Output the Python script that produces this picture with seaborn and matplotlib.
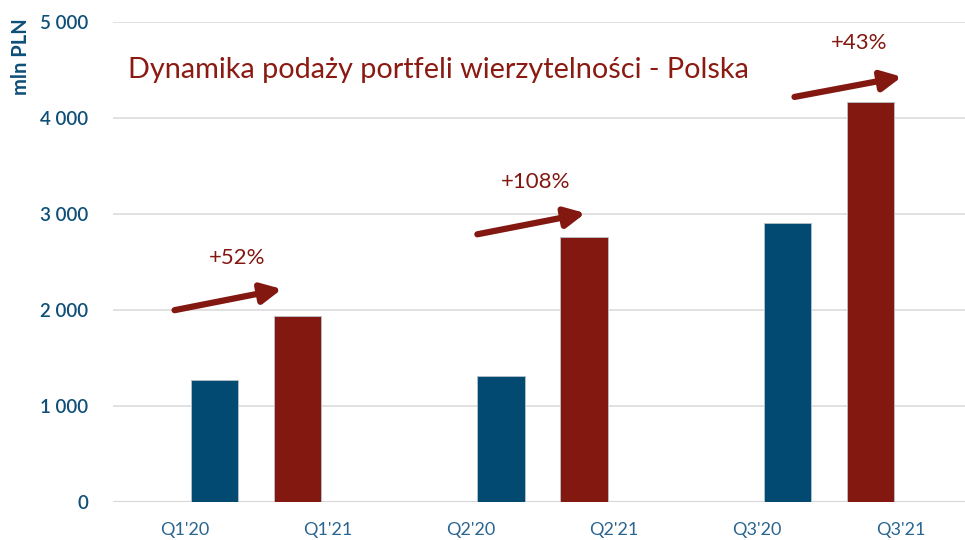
import matplotlib
matplotlib.use("Agg")
import matplotlib.pyplot as plt
import seaborn as sns
import pandas as pd
from matplotlib.ticker import FuncFormatter, MultipleLocator

# ---- data ----
quarters = ["Q1'20", "Q1'21", "Q2'20", "Q2'21", "Q3'20", "Q3'21"]
years = ["2020", "2021", "2020", "2021", "2020", "2021"]
values = [1270, 1935, 1320, 2765, 2905, 4170]
growth_labels = ["+52%", "+108%", "+43%"]
title_text = "Dynamika podaży portfeli wierzytelności - Polska"
y_label = "mln PLN"

# annotation geometry (data coords): arrow start/end and label position
arrow_start = [(-0.07, 2000), (2.045, 2790), (4.26, 4220)]
arrow_end = [(0.68, 2220), (2.80, 3010), (5.01, 4430)]
label_pos = [(0.37, 2545), (2.45, 3330), (4.71, 4780)]

BLUE = "#034A73"
RED = "#831811"
TITLE_RED = "#8A1A12"
TICK_BLUE = "#0E4F78"
XTICK_BLUE = "#2A6590"

sns.set_theme(style="white")
plt.rcParams["font.family"] = ["Lato", "DejaVu Sans"]

df = pd.DataFrame({"quarter": quarters, "year": years, "value": values})

fig = plt.figure(figsize=(9.65, 5.40), dpi=100)
ax = fig.add_axes([113 / 965, (540 - 502.3) / 540, (972 - 113) / 965, (502.3 - 22) / 540])

sns.barplot(data=df, x="quarter", y="value", hue="year", hue_order=["2021", "2020"],
            palette={"2020": BLUE, "2021": RED}, order=quarters,
            width=0.84, gap=0.21, dodge=True, legend=False, ax=ax,
            edgecolor="#B8C4CC", linewidth=0.6, saturation=1)

ax.set_xlim(-0.5, 5.5)
ax.set_ylim(0, 5000)
ax.yaxis.set_major_locator(MultipleLocator(1000))
ax.yaxis.set_major_formatter(FuncFormatter(lambda v, p: f"{int(v):,}".replace(",", " ")))
ax.grid(axis="y", color="#D9D9D9", linewidth=1.1)
ax.set_axisbelow(True)
for s in ax.spines.values():
    s.set_visible(False)
ax.axhline(0, color="#D0D0D0", linewidth=2.2, zorder=0.5)

ax.tick_params(axis="y", length=0, pad=18, labelsize=13.5, labelcolor=TICK_BLUE)
ax.tick_params(axis="x", length=0, pad=14, labelsize=13, labelcolor=XTICK_BLUE)
for t in ax.get_yticklabels():
    t.set_fontweight("semibold")
ax.set_xlabel("")
ax.set_ylabel("")

fig.text(21 / 965, 1 - 57 / 540, y_label, rotation=90, ha="center", va="center",
         fontsize=14.5, fontweight="bold", color=TICK_BLUE)

fig.text(128 / 965, 1 - 70 / 540, title_text, ha="left", va="center",
         fontsize=20.8, color=TITLE_RED)

for (x0, y0), (x1, y1), (lx, ly), lab in zip(arrow_start, arrow_end, label_pos, growth_labels):
    ax.annotate("", xy=(x1, y1), xytext=(x0, y0),
                arrowprops=dict(arrowstyle="-|>,head_length=1.0,head_width=0.5",
                                color=RED, lw=4.5, shrinkA=0, shrinkB=0))
    ax.text(lx, ly, lab, ha="center", va="center", fontsize=16, color=RED)

fig.savefig("out.png", dpi=100, facecolor="white")
